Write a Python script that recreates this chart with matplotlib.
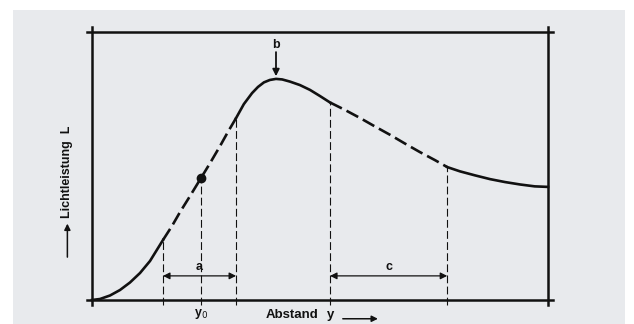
import matplotlib
matplotlib.use("Agg")
import matplotlib.pyplot as plt
import numpy as np

plt.rcParams['font.family'] = ['Liberation Sans', 'DejaVu Sans']

# Lichtleistung L über Abstand y (beide Achsen 0..100)
abstand = [0, 1.75, 3.95, 6.14, 8.33, 10.53, 12.72, 15.57, 17.54, 19.3, 21.5,
           23.9, 25.9, 28.1, 29.8, 31.6, 33.3, 35.1, 36.4, 37.7, 39.0, 40.35,
           41.7, 43.4, 45.6, 47.8, 50.0, 52.2, 55.5, 58.8, 62.1, 65.4, 68.6,
           71.9, 75.2, 77.9, 80.7, 84.0, 87.3, 90.6, 93.9, 97.1, 100]
licht = [0, 0.37, 1.68, 3.73, 6.53, 10.07, 14.55, 22.39, 27.6, 32.8, 38.8,
         45.5, 51.1, 57.5, 62.7, 67.9, 73.1, 77.2, 79.5, 81.2, 82.1, 82.5,
         82.3, 81.5, 80.2, 78.4, 76.1, 73.7, 70.9, 67.9, 64.7, 61.6, 58.4,
         55.2, 52.2, 49.6, 48.0, 46.5, 45.1, 44.0, 43.1, 42.4, 42.2]

# Markierte Abstände
a_links, y0, a_rechts = 15.57, 23.9, 31.6
c_links, c_rechts = 52.2, 77.9
peak_x = 40.35

abstand = np.array(abstand)
licht = np.array(licht)

fig = plt.figure(figsize=(6.34, 3.24), dpi=100)
fig.patch.set_facecolor('white')
bg = fig.add_axes([13 / 634, 0, 612 / 634, 314 / 324])
bg.set_facecolor('#e8eaed')
bg.set_xticks([])
bg.set_yticks([])
for s in bg.spines.values():
    s.set_visible(False)

ax = fig.add_axes([92 / 634, 24 / 324, 456 / 634, 268 / 324])
ax.set_xlim(0, 100)
ax.set_ylim(0, 100)
ax.axis('off')

col = '#111111'
# Rahmen mit überstehenden Ecken
ax.plot([-1.1, 101.1], [100, 100], color=col, lw=1.8, clip_on=False)
ax.plot([-1.1, 101.1], [0, 0], color=col, lw=1.8, clip_on=False)
ax.plot([0, 0], [-1.9, 101.9], color=col, lw=1.8, clip_on=False)
ax.plot([100, 100], [-1.9, 101.9], color=col, lw=1.8, clip_on=False)

# Kurve: durchgezogen / gestrichelt abschnittsweise
grenzen = [0, a_links, a_rechts, c_links, c_rechts, 100]
for i in range(len(grenzen) - 1):
    m = (abstand >= grenzen[i]) & (abstand <= grenzen[i + 1])
    ls = (0, (5, 2)) if i % 2 == 1 else '-'
    ax.plot(abstand[m], licht[m], color=col, lw=1.9, linestyle=ls,
            solid_joinstyle='round', clip_on=False)

# senkrechte gestrichelte Linien
for xv in [a_links, y0, a_rechts, c_links, c_rechts]:
    yv = np.interp(xv, abstand, licht)
    ax.plot([xv, xv], [-1.9, yv], color=col, lw=0.8, linestyle=(0, (7, 3)),
            clip_on=False)

# Punkt bei y0
ax.plot([y0], [np.interp(y0, abstand, licht)], 'o', color=col, ms=6)

# Maßpfeile a und c
for x1, x2, lab in [(a_links, a_rechts, 'a'), (c_links, c_rechts, 'c')]:
    ax.annotate('', xy=(x1, 9), xytext=(x2, 9),
                arrowprops=dict(arrowstyle='<|-|>', color=col, lw=0.9,
                                mutation_scale=10, shrinkA=0, shrinkB=0))
    ax.text((x1 + x2) / 2, 10.2, lab, ha='center', va='bottom',
            fontsize=9, fontweight='bold', color=col)

# b mit Pfeil zum Maximum
ax.annotate('', xy=(peak_x, 83.5), xytext=(peak_x, 92.5),
            arrowprops=dict(arrowstyle='-|>', color=col, lw=1.3,
                            mutation_scale=10, shrinkA=0, shrinkB=0))
ax.text(peak_x, 93, 'b', ha='center', va='bottom', fontsize=9,
        fontweight='bold', color=col)

# Achsenbeschriftungen
ax.text(y0, -5.4, r'y$_{\mathrm{0}}$', ha='center', va='center', fontsize=9,
        fontweight='bold', color=col)
ax.text(43.9, -5.6, 'Abstand', ha='center', va='center', fontsize=9.5,
        fontweight='bold', color=col)
ax.text(52.4, -5.6, 'y', ha='center', va='center', fontsize=9.5,
        fontweight='bold', color=col)
ax.annotate('', xy=(62.7, -7.0), xytext=(55.0, -7.0),
            arrowprops=dict(arrowstyle='-|>', color=col, lw=1.1,
                            mutation_scale=9, shrinkA=0, shrinkB=0),
            annotation_clip=False)

ax.annotate('', xy=(-5.4, 28.5), xytext=(-5.4, 16),
            arrowprops=dict(arrowstyle='-|>', color=col, lw=1.1,
                            mutation_scale=9, shrinkA=0, shrinkB=0),
            annotation_clip=False)
ax.text(-5.4, 30.5, 'Lichtleistung  L', rotation=90, ha='center', va='bottom',
        fontsize=9, fontweight='bold', color=col)

fig.savefig('out.png', dpi=100)
